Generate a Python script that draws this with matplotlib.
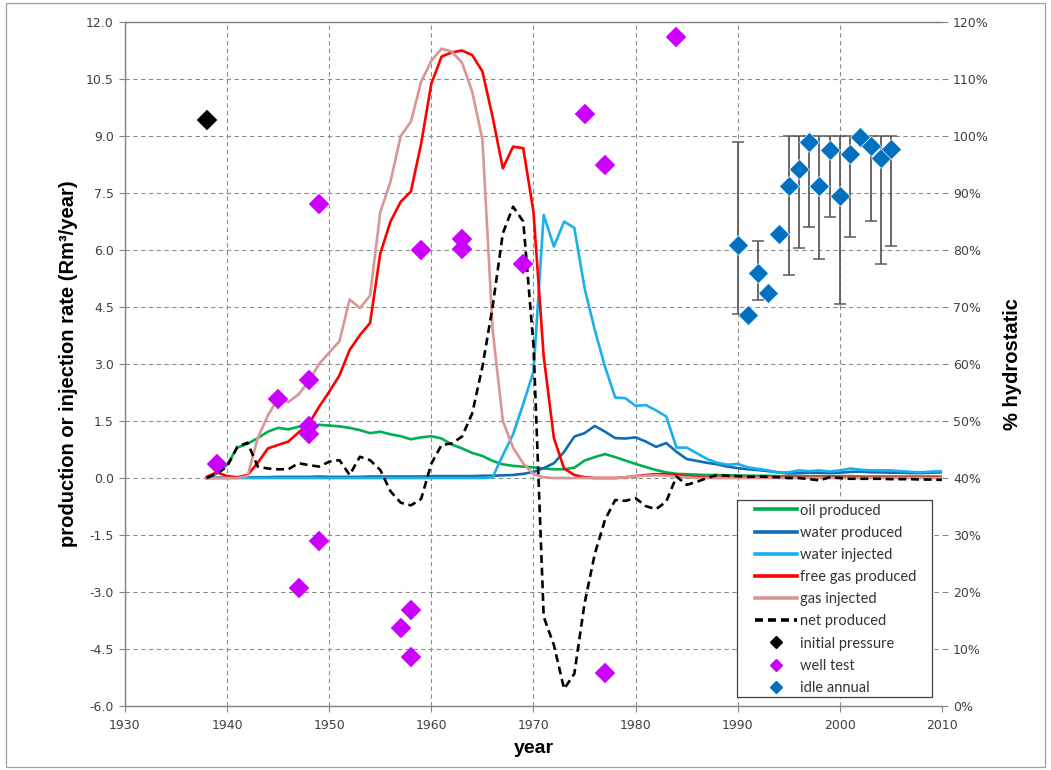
import numpy as np
import matplotlib
matplotlib.use("Agg")
import matplotlib.pyplot as plt
from matplotlib.lines import Line2D
from matplotlib.patches import Rectangle

# ---- annual rates (Rm3/year) ----
years = list(range(1938, 2011))

oil_produced = [
    0.0, 0.12, 0.35, 0.8, 0.9, 1.05, 1.22, 1.32, 1.28, 1.35,
    1.33, 1.4, 1.38, 1.36, 1.32, 1.26, 1.18, 1.22, 1.15, 1.1,
    1.02, 1.07, 1.1, 1.04, 0.88, 0.78, 0.66, 0.58, 0.45, 0.36,
    0.32, 0.3, 0.28, 0.25, 0.23, 0.23, 0.27, 0.46, 0.55, 0.63,
    0.55, 0.46, 0.37, 0.29, 0.21, 0.15, 0.11, 0.1, 0.09, 0.08,
    0.08, 0.07, 0.07, 0.06, 0.06, 0.06, 0.05, 0.05, 0.05, 0.05,
    0.05, 0.05, 0.05, 0.05, 0.04, 0.04, 0.04, 0.04, 0.04, 0.04,
    0.04, 0.04, 0.04]

water_produced = [
    0.0, 0.01, 0.01, 0.02, 0.02, 0.02, 0.02, 0.03, 0.03, 0.03,
    0.03, 0.04, 0.03, 0.03, 0.03, 0.03, 0.04, 0.04, 0.04, 0.04,
    0.04, 0.04, 0.05, 0.05, 0.05, 0.05, 0.05, 0.06, 0.06, 0.07,
    0.08, 0.11, 0.16, 0.26, 0.39, 0.69, 1.09, 1.18, 1.37, 1.22,
    1.05, 1.04, 1.07, 0.96, 0.82, 0.92, 0.69, 0.5, 0.45, 0.4,
    0.36, 0.3, 0.26, 0.23, 0.21, 0.18, 0.15, 0.12, 0.13, 0.14,
    0.14, 0.13, 0.14, 0.16, 0.17, 0.15, 0.15, 0.14, 0.14, 0.13,
    0.13, 0.14, 0.15]

water_injected = [
    0.0, 0.0, 0.0, 0.0, 0.0, 0.0, 0.0, 0.0, 0.0, 0.0,
    0.0, 0.0, 0.0, 0.0, 0.0, 0.0, 0.0, 0.0, 0.0, 0.0,
    0.0, 0.0, 0.0, 0.0, 0.0, 0.0, 0.0, 0.0, 0.02, 0.6,
    1.15, 1.95, 2.8, 6.92, 6.09, 6.75, 6.58, 5.0, 3.9, 2.93,
    2.12, 2.1, 1.9, 1.92, 1.78, 1.62, 0.8, 0.8, 0.65, 0.5,
    0.4, 0.35, 0.37, 0.28, 0.24, 0.2, 0.14, 0.15, 0.2, 0.18,
    0.2, 0.17, 0.2, 0.25, 0.22, 0.2, 0.2, 0.2, 0.18, 0.16,
    0.15, 0.17, 0.18]

free_gas_produced = [
    0.03, 0.15, 0.05, 0.02, 0.08, 0.4, 0.78, 0.87, 0.96, 1.2,
    1.42, 1.87, 2.27, 2.7, 3.37, 3.76, 4.08, 5.91, 6.75, 7.27,
    7.54, 8.8, 10.38, 11.09, 11.2, 11.25, 11.13, 10.7, 9.5, 8.15,
    8.72, 8.68, 7.0, 3.2, 1.05, 0.25, 0.08, 0.02, 0.0, 0.0,
    0.0, 0.02, 0.05, 0.08, 0.1, 0.1, 0.08, 0.05, 0.03, 0.02,
    0.01, 0.01, 0.01, 0.01, 0.01, 0.01, 0.01, 0.01, 0.01, 0.01,
    0.01, 0.01, 0.01, 0.01, 0.01, 0.01, 0.01, 0.01, 0.01, 0.01,
    0.01, 0.01, 0.01]

gas_injected = [
    0.0, 0.0, 0.0, 0.0, 0.05, 1.05, 1.65, 2.1, 2.0, 2.2,
    2.55, 3.0, 3.3, 3.6, 4.7, 4.47, 4.8, 7.0, 7.8, 9.0,
    9.38, 10.43, 10.98, 11.3, 11.22, 10.93, 10.17, 8.9, 3.9, 1.5,
    0.8, 0.38, 0.1, 0.02, 0.0, 0.0, 0.0, 0.0, 0.0, 0.0,
    0.0, 0.02, 0.05, 0.06, 0.07, 0.06, 0.04, 0.02, 0.0, 0.0,
    0.0, 0.0, 0.0, 0.0, 0.0, 0.0, 0.0, 0.0, 0.0, 0.0,
    0.0, 0.0, 0.0, 0.0, 0.0, 0.0, 0.0, 0.0, 0.0, 0.0,
    0.0, 0.0, 0.0]

net_produced = [
    0.0, 0.12, 0.3, 0.82, 0.93, 0.3, 0.25, 0.23, 0.23, 0.39,
    0.34, 0.3, 0.43, 0.47, 0.08, 0.56, 0.47, 0.21, -0.35, -0.65,
    -0.72, -0.55, 0.38, 0.87, 0.91, 1.09, 1.7, 2.93, 4.51, 6.44,
    7.14, 6.75, 3.5, -3.65, -4.4, -5.55, -5.15, -3.3, -2.0, -1.1,
    -0.58, -0.6, -0.53, -0.74, -0.82, -0.62, 0.04, -0.18, -0.1, 0.0,
    0.08, 0.06, 0.05, 0.03, 0.04, 0.03, 0.02, 0.0, 0.0, -0.03,
    -0.06, 0.02, 0.0, -0.02, -0.02, -0.02, -0.02, -0.03, -0.03, -0.03,
    -0.04, -0.04, -0.05]

# ---- pressure measurements (% hydrostatic) ----
initial_year = [1938]
initial_pct = [102.8]

well_test_year = [1939, 1945, 1947, 1948, 1948, 1948, 1949, 1949, 1957, 1958,
                  1958, 1959, 1963, 1963, 1969, 1975, 1977, 1977, 1984]
well_test_pct = [42.4, 53.9, 20.7, 57.2, 49.1, 47.8, 88.1, 28.9, 13.7, 16.8,
                 8.6, 80.0, 81.9, 80.1, 77.6, 103.9, 94.9, 5.8, 117.4]

idle_year = list(range(1990, 2006))
idle_pct = [80.9, 68.6, 75.9, 72.4, 82.8, 91.2, 94.2, 99.0,
            91.3, 97.5, 89.5, 96.8, 99.8, 98.2, 96.1, 97.7]
# range of readings within each year (None where a single reading)
idle_low = [68.8, None, 71.2, None, None, 75.6, 80.4, 84.0,
            78.4, 85.8, 70.6, 82.3, None, 85.1, 77.5, 80.7]
idle_high = [99.0, None, 81.5, None, None, 100.0, 100.0, 100.0,
             100.0, 100.0, 100.0, 100.0, None, 100.0, 100.0, 100.0]

# ---- colours ----
C_OIL = "#00B050"
C_WPROD = "#0F6DB8"
C_WINJ = "#1AB0EC"
C_GAS = "#FF0000"
C_GINJ = "#D99694"
C_WELL = "#CC00FF"
C_IDLE = "#0070C0"

TICK_COLOR = "#404040"
GRID_COLOR = "#8C8C8C"
LABEL_FONT = ["Liberation Sans Narrow", "Liberation Sans", "DejaVu Sans"]
LEGEND_FONT = ["Lato", "DejaVu Sans"]

fig = plt.figure(figsize=(10.51, 7.70), dpi=100)
fig.patches.append(Rectangle((0.006, 0.004), 0.988, 0.992, transform=fig.transFigure,
                             fill=False, edgecolor="#A0A0A0", linewidth=0.9))

ax = fig.add_axes([0.1189, 0.0831, 0.7774, 0.8883])
ax2 = ax.twinx()

lw = 1.9
ax.plot(years, oil_produced, color=C_OIL, lw=lw, label="oil produced", zorder=3)
ax.plot(years, water_produced, color=C_WPROD, lw=lw, label="water produced", zorder=3)
ax.plot(years, water_injected, color=C_WINJ, lw=lw, label="water injected", zorder=3)
ax.plot(years, free_gas_produced, color=C_GAS, lw=lw, label="free gas produced", zorder=3)
ax.plot(years, gas_injected, color=C_GINJ, lw=lw, label="gas injected", zorder=3)
ax.plot(years, net_produced, color="black", lw=lw, dashes=(3, 1.8),
        label="net produced", zorder=4)

ax.set_xlim(1930, 2010)
ax.set_ylim(-6.0, 12.0)
ax.set_xticks(np.arange(1930, 2011, 10))
ax.set_yticks(np.arange(-6.0, 12.01, 1.5))
ax.set_yticklabels([f"{v:.1f}" for v in np.arange(-6.0, 12.01, 1.5)])
ax.grid(True, color=GRID_COLOR, linestyle=(0, (4, 3)), linewidth=0.8)
ax.set_axisbelow(True)

ax2.set_ylim(0, 120)
ax2.set_yticks(np.arange(0, 121, 10))
ax2.set_yticklabels([f"{v}%" for v in range(0, 121, 10)])

# idle-well readings: range bars then the annual value
for yr, p, lo, hi in zip(idle_year, idle_pct, idle_low, idle_high):
    if lo is None:
        continue
    ax2.errorbar([yr], [p], yerr=[[p - lo], [hi - p]], fmt="none",
                 ecolor="#5A5A5A", elinewidth=1.3, capsize=4, capthick=1.1, zorder=2)
MS = 10
ax2.plot(idle_year, idle_pct, linestyle="none", marker="D", markersize=MS,
         color=C_IDLE, markeredgecolor="#E8F0F8", markeredgewidth=0.5, zorder=3)
ax2.plot(well_test_year, well_test_pct, linestyle="none", marker="D", markersize=MS,
         color=C_WELL, markeredgecolor=C_WELL, markeredgewidth=0.3, zorder=3)
ax2.plot(initial_year, initial_pct, linestyle="none", marker="D", markersize=MS,
         color="black", markeredgewidth=0.3, zorder=3)

for a in (ax, ax2):
    a.tick_params(axis="both", labelsize=9, labelcolor=TICK_COLOR, color="#868686",
                  length=4, width=0.8, direction="out")
    for s in a.spines.values():
        s.set_color("#868686")
        s.set_linewidth(0.9)
    a.spines["right"].set_visible(False)
    for lab in a.get_xticklabels() + a.get_yticklabels():
        lab.set_family("DejaVu Sans")

ax.tick_params(axis="x", pad=5)
ax.tick_params(axis="y", pad=4)
ax2.tick_params(axis="y", pad=4)

ax.set_xlabel("year", fontsize=14, fontweight="bold", family=LABEL_FONT, labelpad=6)
ax.set_ylabel("production or injection rate (Rm³/year)", fontsize=14.5,
              fontweight="bold", family=LABEL_FONT, labelpad=6)
ax2.set_ylabel("% hydrostatic", fontsize=14.5, fontweight="bold",
               family=LABEL_FONT, labelpad=10)

# legend box drawn as a plain rectangle, entries placed inside it
ax2.add_patch(Rectangle((0.749, 0.013), 0.239, 0.288, transform=ax2.transAxes,
                        facecolor="white", edgecolor="#404040", linewidth=0.9,
                        zorder=8, clip_on=False))
handles = [
    Line2D([], [], color=C_OIL, lw=2.6),
    Line2D([], [], color=C_WPROD, lw=2.6),
    Line2D([], [], color=C_WINJ, lw=2.6),
    Line2D([], [], color=C_GAS, lw=2.6),
    Line2D([], [], color=C_GINJ, lw=2.6),
    Line2D([], [], color="black", lw=2.6, dashes=(2.2, 1.4)),
    Line2D([], [], linestyle="none", marker="D", markersize=6, color="black"),
    Line2D([], [], linestyle="none", marker="D", markersize=6, color=C_WELL),
    Line2D([], [], linestyle="none", marker="D", markersize=6, color=C_IDLE),
]
labels = ["oil produced", "water produced", "water injected", "free gas produced",
          "gas injected", "net produced", "initial pressure", "well test", "idle annual"]
leg = ax2.legend(handles, labels, loc="upper left", bbox_to_anchor=(0.771, 0.296),
                 prop={"family": LEGEND_FONT, "size": 10.5}, frameon=False,
                 handlelength=2.9, handletextpad=0.2, labelspacing=0.56,
                 borderpad=0, borderaxespad=0)
leg.set_zorder(9)
for t in leg.get_texts():
    t.set_color("#333333")

fig.savefig("out.png", dpi=100)
